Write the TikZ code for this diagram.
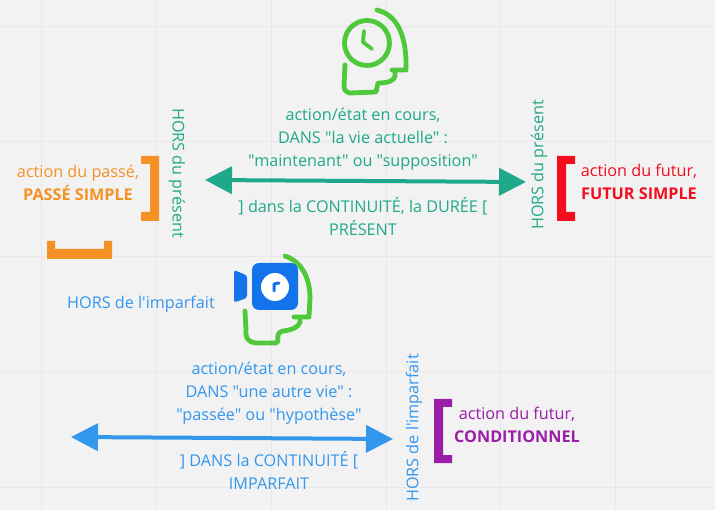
\documentclass[tikz,border=0pt]{standalone}
\usepackage{fontspec}
\setmainfont{Open Sans}[Ligatures=TeXOff]
\usetikzlibrary{arrows.meta}
\definecolor{bgc}{HTML}{F2F2F2}
\definecolor{gridc}{HTML}{E8E8E8}
\definecolor{teal1}{HTML}{1FA98A}
\definecolor{blue1}{HTML}{3397EE}
\definecolor{cam}{HTML}{1273EB}
\definecolor{green1}{HTML}{50C83C}
\definecolor{orange1}{HTML}{F59226}
\definecolor{red1}{HTML}{F20D1F}
\definecolor{purple1}{HTML}{9A1EA8}
\tikzset{
 txt/.style={inner sep=0pt,align=center,font=\fontsize{16.2}{23}\selectfont},
 headline/.style={draw=green1,line width=4.8pt,line cap=round,line join=round},
 bigarrow/.style={line width=4pt,{Triangle[length=27pt,width=27pt]}-{Triangle[length=27pt,width=27pt]},shorten <=0pt,shorten >=0pt}
}
\begin{document}
\begin{tikzpicture}[x=1pt,y=-1pt]
\useasboundingbox (0,0) rectangle (715,510);
\fill[bgc] (0,0) rectangle (715,510);
\foreach \x in {41,156,271,386,500,615} \draw[gridc,line width=1pt] (\x,0) -- (\x,510);
\foreach \y in {27,142,257,372,487} \draw[gridc,line width=1pt] (0,\y) -- (715,\y);
% clock head
\draw[headline] (367,43) circle (22.5);
\draw[headline,line width=3.8pt] (364,31) -- (363,42) -- (372,49);
\draw[headline] (377,10) .. controls (397,15) and (407,35) .. (406,70) -- (392,70)
  (395,70) -- (395,76) .. controls (394,81) and (388,83) .. (378,83)
  -- (376,92) -- (350,93) .. controls (346,92) and (344,90) .. (344,86) -- (345,65);
% camera head
\draw[headline] (285,256) .. controls (303,262) and (310,280) .. (310,298) -- (309,317) -- (294,317)
  (300,317) -- (300,322) .. controls (299,327) and (292,330) .. (283,331) .. controls (278,332) and (277,336) .. (278,341)
  -- (276,343) -- (256,343) .. controls (248,342) and (245,338) .. (246,330) -- (245,311);
\fill[cam,rounded corners=7pt] (252,263) rectangle (298,310);
\fill[cam,rounded corners=2.5pt] (234,270) -- (247,275.5) -- (247,298) -- (234,302.5) -- cycle;
\fill[white] (275,287) circle (14);
\draw[cam,line width=3pt,line cap=round,line join=round] (274,291) -- (274,284) -- (279,283);
% brackets
\fill[orange1] (141,156) -- (159,156) -- (159,221) -- (141,221) -- (141,212) -- (150,212) -- (150,164) -- (141,164) -- cycle;
\fill[orange1] (47,241) -- (55,241) -- (55,249) -- (104,249) -- (104,241) -- (112,241) -- (112,259) -- (47,259) -- cycle;
\fill[red1] (575,156) -- (557,156) -- (557,221) -- (575,221) -- (575,212) -- (566,212) -- (566,164) -- (575,164) -- cycle;
\fill[purple1] (452,399) -- (434,399) -- (434,463) -- (452,463) -- (452,455) -- (443,455) -- (443,407) -- (452,407) -- cycle;
% arrows
\coordinate (tealL) at (205,180);
\coordinate (tealR) at (526,182);
\coordinate (blueL) at (71,437);
\coordinate (blueR) at (393,439);
\draw[teal1,bigarrow] (tealL) -- (tealR);
\draw[blue1,bigarrow] (blueL) -- (blueR);
% texts
\node[txt,text=teal1] (t1) at (363,139) {action/état en cours,\\DANS "la vie actuelle" :\\"maintenant" ou "supposition"};
\node[txt,text=teal1] (t2) at (363,217) {] dans la CONTINUITÉ, la DURÉE [\\PRÉSENT};
\node[txt,text=teal1,rotate=-90] (t3) at (177,173) {HORS du présent};
\node[txt,text=teal1,rotate=90] (t4) at (539,165) {HORS du présent};
\node[txt,text=orange1] (t5) at (78,183) {action du passé,\\\textbf{PASSÉ SIMPLE}};
\node[txt,text=red1] (t6) at (639,182) {action du futur,\\\textbf{FUTUR SIMPLE}};
\node[txt,text=purple1] (t7) at (517,425) {action du futur,\\\textbf{CONDITIONNEL}};
\node[txt,text=blue1] (t8) at (141,304) {HORS de l'imparfait};
\node[txt,text=blue1] (t9) at (269,393) {action/état en cours,\\DANS "une autre vie" :\\"passée" ou "hypothèse"};
\node[txt,text=blue1] (t10) at (269,470) {] DANS la CONTINUITÉ [\\IMPARFAIT};
\node[txt,text=blue1,rotate=90] (t11) at (414,428) {HORS de l'imparfait};
\end{tikzpicture}
\end{document}
